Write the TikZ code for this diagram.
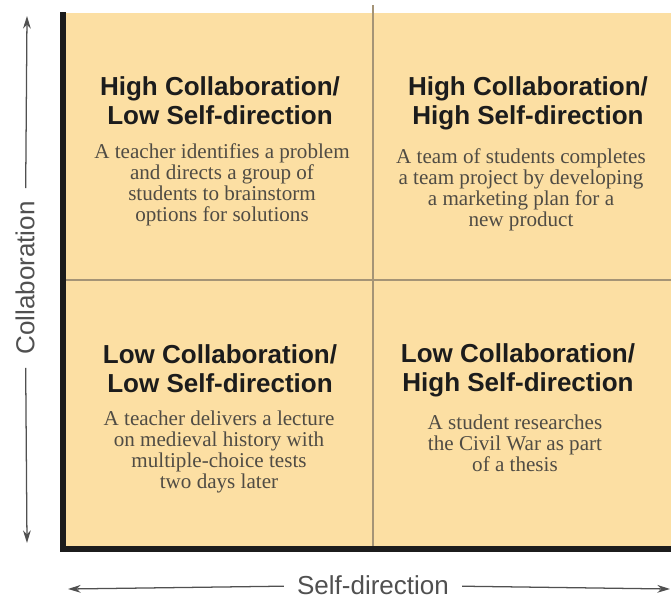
\documentclass[tikz,border=0pt]{standalone}
\usepackage{fontspec}
\setmainfont{Liberation Serif}
\newfontfamily\headfont{Liberation Sans}
\usetikzlibrary{arrows.meta}

\definecolor{quadfill}{RGB}{252,223,163}
\definecolor{divline}{RGB}{165,148,118}
\definecolor{framecol}{RGB}{28,28,28}
\definecolor{axiscol}{RGB}{80,80,80}
\definecolor{bodycol}{RGB}{80,76,68}

\tikzset{
  every picture/.style={line width=0.75pt},
  quadhead/.style={align=center, text=framecol, inner sep=0pt,
    font=\headfont\bfseries\fontsize{18.5}{20.5}\selectfont},
  quadbody/.style={align=center, text=bodycol, inner sep=0pt,
    font=\fontsize{15}{15}\selectfont},
  axislabel/.style={text=axiscol, inner sep=9pt,
    font=\headfont\fontsize{18.5}{22}\selectfont},
  axisarrow/.style={draw=axiscol, line width=0.9pt,
    -{Stealth[length=9pt,width=5.5pt]}},
}

\begin{document}
\begin{tikzpicture}[x=0.025cm, y=-0.025cm]
    \useasboundingbox (0,0) rectangle (671,601);
    \fill[quadfill] (63,13) rectangle (671,549);
    \draw[divline, line width=1.4pt] (373,5) -- (373,549);
    \draw[divline, line width=1.4pt] (63,280) -- (671,280);
    \draw[framecol, line width=3.6pt] (63,12) -- (63,549) -- (671,549);

    \node[quadhead] (hclsHead) at (220,101) {High Collaboration/\\Low Self-direction};
    \node[quadbody] (hclsText) at (222,185) {A teacher identifies a problem\\and directs a group of\\students to brainstorm\\options for solutions};
    \node[quadhead] (hchsHead) at (528,103) {High Collaboration/\\High Self-direction};
    \node[quadbody] (hchsText) at (521,190) {A team of students completes\\a team project by developing\\a marketing plan for a\\new product};
    \node[quadhead] (lclsHead) at (220,369) {Low Collaboration/\\Low Self-direction};
    \node[quadbody] (lclsText) at (219,452) {A teacher delivers a lecture\\on medieval history with\\multiple-choice tests\\two days later};
    \node[quadhead] (lchsHead) at (518,370) {Low Collaboration/\\High Self-direction};
    \node[quadbody] (lchsText) at (515,443) {A student researches\\the Civil War as part\\of a thesis};

    \node[axislabel, rotate=90] (collab) at (25,278) {Collaboration};
    \coordinate (collabTop) at (27,16);
    \coordinate (collabBot) at (27,543);
    \draw[axisarrow] (collab) -- (collabTop);
    \draw[axisarrow] (collab) -- (collabBot);

    \node[axislabel] (selfdir) at (373,585) {Self-direction};
    \coordinate (selfLeft) at (68,589);
    \coordinate (selfRight) at (670,589);
    \draw[axisarrow] (selfdir) -- (selfLeft);
    \draw[axisarrow] (selfdir) -- (selfRight);
\end{tikzpicture}
\end{document}
